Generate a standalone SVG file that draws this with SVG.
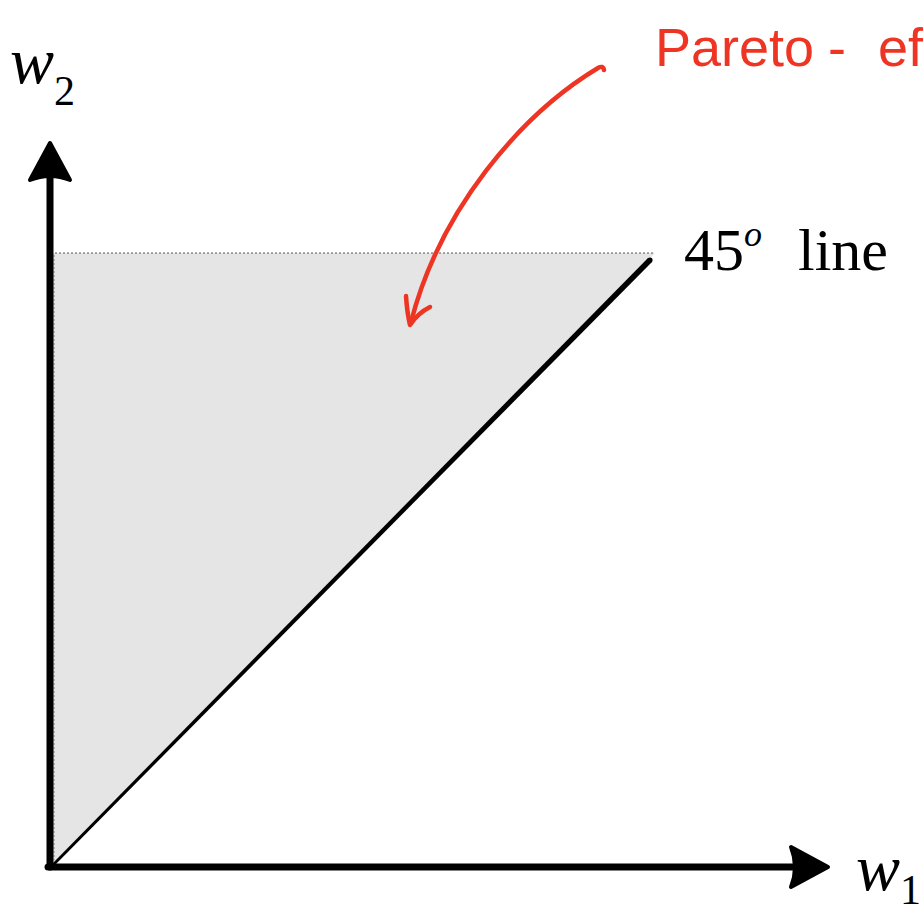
<svg xmlns="http://www.w3.org/2000/svg" width="924" height="912" viewBox="0 0 924 912">
<style>
.axis{stroke:#000;stroke-width:7;fill:none;stroke-linecap:round}
.head{fill:#000;stroke:#000;stroke-width:4;stroke-linejoin:round}
.lbl{font-family:"Liberation Serif",serif;fill:#000}
.red{stroke:#ee3524;stroke-width:4.5;fill:none;stroke-linecap:round;stroke-linejoin:round}
.hand{font-family:"Liberation Sans",sans-serif;font-size:54px;fill:#ee3524}
</style>
<rect width="924" height="912" fill="#fff"/>
<g id="region">
<polygon points="53,253 655,253 53,863" fill="#e5e5e5"/>
<line x1="55" y1="253" x2="655" y2="253" stroke="#555" stroke-width="1" stroke-dasharray="2,2"/>
<line x1="54" y1="255" x2="54" y2="860" stroke="#888" stroke-width="1" stroke-dasharray="2,2"/>
</g>
<g id="diagonal">
<polygon points="51,865 648,258 652,262 54,866" fill="#000"/>
<circle cx="650" cy="260" r="2.6" fill="#000"/>
</g>
<g id="connectors">
<line class="axis" x1="50" y1="867" x2="50" y2="170"/>
<path class="head" d="M50,143 L70,180 Q50,172 30,180 Z"/>
<line class="axis" x1="48" y1="867" x2="800" y2="867"/>
<path class="head" d="M828,867 L791,887 Q799,867 791,847 Z"/>
</g>
<g id="w2">
<text class="lbl" x="10" y="83" font-size="66" font-style="italic">w<tspan font-size="42" font-style="normal" dy="22">2</tspan></text>
</g>
<g id="w1">
<text class="lbl" x="856" y="890" font-size="66" font-style="italic">w<tspan font-size="42" font-style="normal" dy="14">1</tspan></text>
</g>
<g id="line45">
<text class="lbl" x="684" y="270" font-size="60">45<tspan font-size="36" font-style="italic" dy="-24">o</tspan><tspan dy="24" x="798">line</tspan></text>
</g>
<g id="annotation">
<text class="hand" x="655" y="66">Pareto<tspan x="828">-</tspan><tspan x="878">ef</tspan></text>
<path class="red" d="M604,70 Q603,65 598,68 C520,115 440,210 411,322"/>
<path class="red" d="M406,296 Q407,312 410,325 Q418,313 430,307"/>
</g>
</svg>
